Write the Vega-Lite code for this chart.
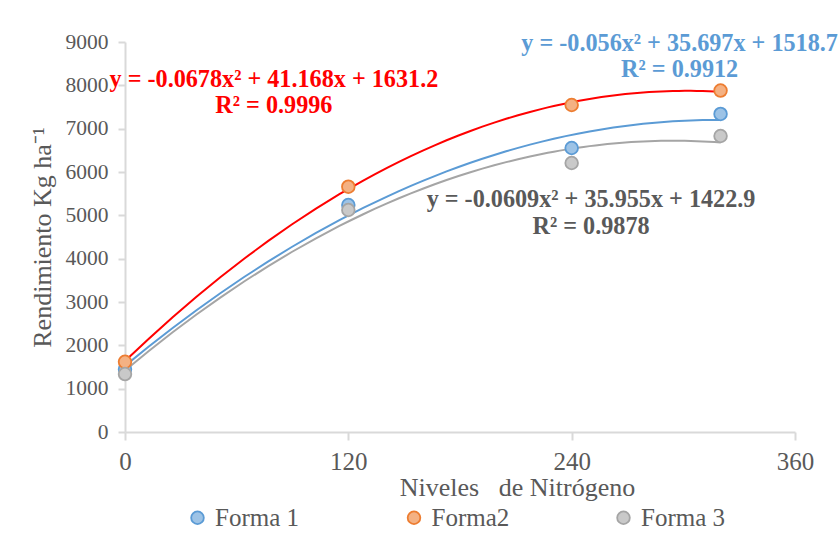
{
  "$schema": "https://vega.github.io/schema/vega-lite/v6.json",
  "width": 670,
  "height": 390,
  "autosize": {"type": "none"},
  "padding": {"left": 125, "top": 42, "right": 45, "bottom": 101},
  "background": "white",
  "config": {
    "view": {"stroke": null},
    "font": "Liberation Serif",
    "axis": {"domainColor": "#D9D9D9", "tickColor": "#D9D9D9", "domainWidth": 2, "tickWidth": 2, "grid": false, "labelColor": "#595959", "titleColor": "#595959", "labelFont": "Liberation Serif", "titleFont": "Liberation Serif", "titleFontWeight": "normal"},
    "legend": {"labelFont": "Liberation Serif", "labelColor": "#595959", "labelFontSize": 25}
  },
  "datasets": {
    "pts": [
      {"x": 0, "y": 1450, "serie": "Forma 1"},
      {"x": 120, "y": 5238, "serie": "Forma 1"},
      {"x": 240, "y": 6554, "serie": "Forma 1"},
      {"x": 320, "y": 7339, "serie": "Forma 1"},
      {"x": 0, "y": 1620, "serie": "Forma2"},
      {"x": 120, "y": 5660, "serie": "Forma2"},
      {"x": 240, "y": 7546, "serie": "Forma2"},
      {"x": 320, "y": 7880, "serie": "Forma2"},
      {"x": 0, "y": 1338, "serie": "Forma 3"},
      {"x": 120, "y": 5123, "serie": "Forma 3"},
      {"x": 240, "y": 6208, "serie": "Forma 3"},
      {"x": 320, "y": 6831, "serie": "Forma 3"}
    ],
    "labels": [
      {"x": 80, "y": 8124, "serie": "Forma2", "text": "y = -0.0678x² + 41.168x + 1631.2"},
      {"x": 80, "y": 7524, "serie": "Forma2", "text": "R² = 0.9996"},
      {"x": 298, "y": 8954, "serie": "Forma 1", "text": "y = -0.056x² + 35.697x + 1518.7"},
      {"x": 298, "y": 8354, "serie": "Forma 1", "text": "R² = 0.9912"},
      {"x": 250.4, "y": 5354, "serie": "Forma 3", "text": "y = -0.0609x² + 35.955x + 1422.9"},
      {"x": 250.4, "y": 4731, "serie": "Forma 3", "text": "R² = 0.9878"}
    ]
  },
  "layer": [
    {
      "data": {"name": "pts"},
      "transform": [
        {"regression": "y", "on": "x", "groupby": ["serie"], "method": "poly", "order": 2, "extent": [0, 320]}
      ],
      "mark": {"type": "line", "strokeWidth": 2, "clip": false},
      "encoding": {
        "x": {"field": "x", "type": "quantitative"},
        "y": {"field": "y", "type": "quantitative"},
        "color": {"field": "serie", "type": "nominal", "scale": {"domain": ["Forma 1", "Forma2", "Forma 3"], "range": ["#5B9BD5", "#FF0000", "#A5A5A5"]}, "legend": null}
      }
    },
    {
      "data": {"name": "pts"},
      "mark": {"type": "point", "shape": "circle", "filled": true, "size": 160, "strokeWidth": 1.8, "opacity": 1, "clip": false},
      "encoding": {
        "x": {
          "field": "x", "type": "quantitative",
          "scale": {"domain": [0, 360], "nice": false},
          "axis": {"values": [0, 120, 240, 360], "format": "d", "labelFlush": false, "title": "Niveles\u00a0\u00a0\u00a0de Nitrógeno", "labelFont": "Liberation Serif", "titleFont": "Liberation Serif", "titleFontSize": 26, "labelFontSize": 25, "labelPadding": 9, "tickSize": 8, "titlePadding": 0, "titleX": 392, "titleAnchor": "start", "titleAlign": "center"}
        },
        "y": {
          "field": "y", "type": "quantitative",
          "scale": {"domain": [0, 9000], "nice": false},
          "axis": {"values": [0, 1000, 2000, 3000, 4000, 5000, 6000, 7000, 8000, 9000], "format": "d", "labelFlush": false, "title": "Rendimiento Kg ha⁻¹", "labelFont": "Liberation Serif", "titleFont": "Liberation Serif", "titleFontSize": 26, "labelFontSize": 21.5, "tickSize": 7, "labelPadding": 10, "titlePadding": 10}
        },
        "fill": {"field": "serie", "type": "nominal", "scale": {"domain": ["Forma 1", "Forma2", "Forma 3"], "range": ["#9DC3E6", "#F4B183", "#C9C9C9"]},
          "legend": {"orient": "none", "legendX": 60, "legendY": 463, "direction": "horizontal", "title": null, "symbolSize": 160, "symbolStrokeWidth": 1.8, "columnPadding": 101.5, "labelOffset": 5, "labelFont": "Liberation Serif"}},
        "stroke": {"field": "serie", "type": "nominal", "scale": {"domain": ["Forma 1", "Forma2", "Forma 3"], "range": ["#5B9BD5", "#ED7D31", "#A5A5A5"]}, "legend": null}
      }
    },
    {
      "data": {"name": "labels"},
      "mark": {"type": "text", "fontWeight": "bold", "fontSize": 24.2, "font": "Liberation Serif", "align": "center", "baseline": "middle", "clip": false},
      "encoding": {
        "x": {"field": "x", "type": "quantitative"},
        "y": {"field": "y", "type": "quantitative"},
        "text": {"field": "text"},
        "color": {"field": "serie", "type": "nominal", "scale": {"domain": ["Forma 1", "Forma2", "Forma 3"], "range": ["#5B9BD5", "#FF0000", "#595959"]}, "legend": null}
      }
    }
  ],
  "resolve": {"scale": {"color": "independent"}}
}
